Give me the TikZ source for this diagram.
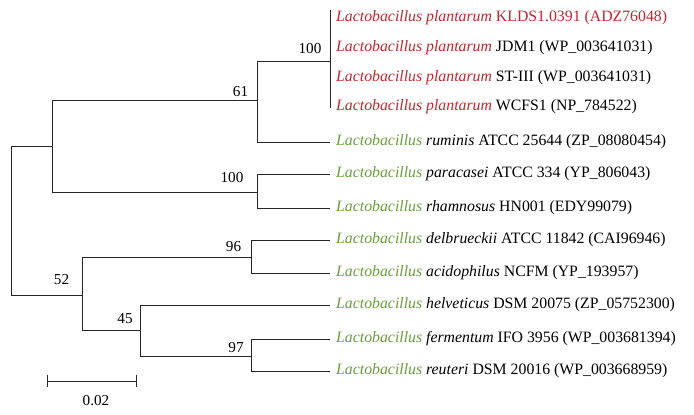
\documentclass[tikz,border=0pt]{standalone}
\usepackage{fontspec}
\setmainfont{Liberation Serif}
\usepackage{tikz}
\usetikzlibrary{positioning, calc}
\definecolor{plantRed}{HTML}{C1272D}
\definecolor{lactoGreen}{HTML}{6A9E3C}

\begin{document}
\begin{tikzpicture}[x=1pt, y=-1pt,
  branch/.style={draw=black!85, line width=1pt},
  taxon/.style={anchor=west, inner sep=0pt, xshift=6pt,
                font=\fontsize{15.8}{18}\selectfont},
  boot/.style={inner sep=0pt, font=\fontsize{15.2}{18}\selectfont}
]
\useasboundingbox (0,0) rectangle (694,415);

% internal nodes of the tree
\coordinate (root) at (11,220);
\coordinate (nUp)  at (52,146);
\coordinate (n61)  at (257,100);
\coordinate (nPla) at (330,61);
\coordinate (nPar) at (257,192);
\coordinate (n52)  at (82,295);
\coordinate (n96)  at (251,257);
\coordinate (n45)  at (140,330);
\coordinate (n97)  at (251,356);

% tips
\coordinate (pTop) at (330,10);
\coordinate (pBot) at (330,108);
\coordinate (tPla1) at (330,18);
\coordinate (tPla2) at (330,48);
\coordinate (tPla3) at (330,78);
\coordinate (tPla4) at (330,107);
\coordinate (tRum) at (330,142);
\coordinate (tPar) at (330,174);
\coordinate (tRha) at (330,208);
\coordinate (tDel) at (330,240);
\coordinate (tAci) at (330,273);
\coordinate (tHel) at (330,305);
\coordinate (tFer) at (330,339);
\coordinate (tReu) at (330,371);

% branches
\draw[branch] (root) |- (nUp);
\draw[branch] (root) |- (n52);
\draw[branch] (nUp) |- (n61);
\draw[branch] (nUp) |- (nPar);
\draw[branch] (n61) |- (nPla);
\draw[branch] (n61) |- (tRum);
\draw[branch] (pTop) -- (pBot);
\draw[branch] (nPar) |- (tPar);
\draw[branch] (nPar) |- (tRha);
\draw[branch] (n52) |- (n96);
\draw[branch] (n52) |- (n45);
\draw[branch] (n96) |- (tDel);
\draw[branch] (n96) |- (tAci);
\draw[branch] (n45) |- (tHel);
\draw[branch] (n45) |- (n97);
\draw[branch] (n97) |- (tFer);
\draw[branch] (n97) |- (tReu);

% taxa
\node[taxon] (lPla1) at (tPla1)
  {\textcolor{plantRed}{\textit{Lactobacillus plantarum} KLDS1.0391 (ADZ76048)}};
\node[taxon] (lPla2) at (tPla2)
  {\textcolor{plantRed}{\textit{Lactobacillus plantarum}} JDM1 (WP\_003641031)};
\node[taxon] (lPla3) at (tPla3)
  {\textcolor{plantRed}{\textit{Lactobacillus plantarum}} ST-III (WP\_003641031)};
\node[taxon] (lPla4) at (tPla4)
  {\textcolor{plantRed}{\textit{Lactobacillus plantarum}} WCFS1 (NP\_784522)};
\node[taxon] (lRum) at (tRum)
  {\textcolor{lactoGreen}{\textit{Lactobacillus}} \textit{ruminis} ATCC 25644 (ZP\_08080454)};
\node[taxon] (lPar) at (tPar)
  {\textcolor{lactoGreen}{\textit{Lactobacillus}} \textit{paracasei} ATCC 334 (YP\_806043)};
\node[taxon] (lRha) at (tRha)
  {\textcolor{lactoGreen}{\textit{Lactobacillus}} \textit{rhamnosus} HN001 (EDY99079)};
\node[taxon] (lDel) at (tDel)
  {\textcolor{lactoGreen}{\textit{Lactobacillus}} \textit{delbrueckii} ATCC 11842 (CAI96946)};
\node[taxon] (lAci) at (tAci)
  {\textcolor{lactoGreen}{\textit{Lactobacillus}} \textit{acidophilus} NCFM (YP\_193957)};
\node[taxon] (lHel) at (tHel)
  {\textcolor{lactoGreen}{\textit{Lactobacillus}} \textit{helveticus} DSM 20075 (ZP\_05752300)};
\node[taxon] (lFer) at (tFer)
  {\textcolor{lactoGreen}{\textit{Lactobacillus}} \textit{fermentum} IFO 3956 (WP\_003681394)};
\node[taxon] (lReu) at (tReu)
  {\textcolor{lactoGreen}{\textit{Lactobacillus}} \textit{reuteri} DSM 20016 (WP\_003668959)};

% bootstrap values
\node[boot] (bPla) at (310,48.5) {100};
\node[boot] (b61)  at (240.5,91.5) {61};
\node[boot] (bPar) at (232,177.5) {100};
\node[boot] (b96)  at (233.5,247) {96};
\node[boot] (b52)  at (61.5,279.5) {52};
\node[boot] (b45)  at (125,318.5) {45};
\node[boot] (b97)  at (236,347.5) {97};

% scale bar
\coordinate (sbL) at (47,381);
\coordinate (sbR) at (136,381);
\draw[branch] (sbL) -- (sbR);
\draw[branch] ([yshift=6pt]sbL) -- ([yshift=-6pt]sbL);
\draw[branch] ([yshift=6pt]sbR) -- ([yshift=-6pt]sbR);
\node[boot] (sbLab) at (96,401) {0.02};
\end{tikzpicture}
\end{document}
